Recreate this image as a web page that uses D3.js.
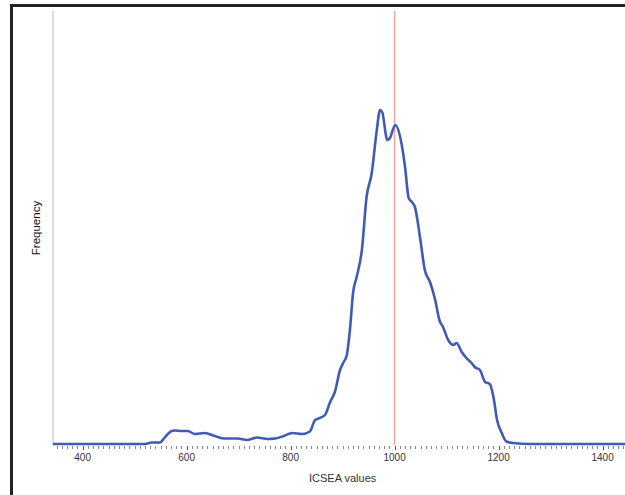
<!DOCTYPE html>
<html>
<head>
<meta charset="utf-8">
<script src="https://cdn.jsdelivr.net/npm/d3@7"></script>
<style>
    body { margin: 0; background: #fff; }
    svg { display: block; font-family: "Liberation Sans", Arial, sans-serif; }
</style>
</head>
<body>
<div id="chart"></div>
<script>
// ICSEA value grid (x) and relative frequency (y, arbitrary units)
const icsea = [343, 520, 533, 549, 554, 562, 571, 577, 590, 602, 616, 635, 654, 673, 698, 716, 735, 756, 770, 787,
    803, 822, 837, 847, 856, 866, 876, 885, 895, 901, 908, 914, 920, 927, 937, 946, 956, 965, 972, 976,
    986, 991, 1001, 1013, 1020, 1027, 1033, 1039, 1049, 1058, 1068, 1078, 1086, 1093, 1103, 1113, 1119, 1129, 1138, 1148,
    1154, 1164, 1174, 1183, 1190, 1197, 1206, 1215, 1228, 1260, 1443];
const frequency = [0, 0, 1.5, 1.5, 4, 9, 13, 13.5, 13, 13, 10, 11, 8, 5.5, 5.5, 4, 6.5, 5, 5.5, 8,
    11, 10, 12.5, 24, 26, 29, 42, 52, 74, 81, 89, 114, 151, 167, 194, 247, 271, 311, 334, 332,
    304, 306, 319, 301, 277, 246, 242, 237, 206, 174, 162, 144, 124, 117, 104, 99, 101, 92, 86, 81,
    77, 74, 62, 60, 47, 24, 11, 2.5, 1, 0, 0];
const tickLabels = [400, 600, 800, 1000, 1200, 1400];
const referenceValue = 1000;

const width = 625, height = 495;
const margin = { left: 53, right: 0, top: 11, bottom: 51 };

const svg = d3.select('#chart').append('svg')
    .attr('width', width)
    .attr('height', height);

// frame (cropped on the right and bottom)
svg.append('rect')
    .attr('x', 11.5).attr('y', 5.5)
    .attr('width', 700).attr('height', 600)
    .attr('fill', 'none')
    .attr('stroke', '#222')
    .attr('stroke-width', 3);

const x = d3.scaleLinear()
    .domain([343, 1443])
    .range([margin.left, width - margin.right]);

const y = d3.scaleLinear()
    .domain([0, 433])
    .range([height - margin.bottom, margin.top]);

const baseY = height - margin.bottom;

// y axis line (no ticks)
svg.append('line')
    .attr('x1', margin.left).attr('x2', margin.left)
    .attr('y1', margin.top).attr('y2', baseY + 1)
    .attr('stroke', '#ddd')
    .attr('stroke-width', 2);

// minor ticks every 10
const minor = d3.range(350, 1450, 10);
svg.append('g')
    .selectAll('line')
    .data(minor)
    .join('line')
    .attr('x1', d => Math.round(x(d)) + 0.5)
    .attr('x2', d => Math.round(x(d)) + 0.5)
    .attr('y1', baseY + 2)
    .attr('y2', d => d % 200 === 0 ? baseY + 6 : baseY + 5)
    .attr('stroke', d => d % 200 === 0 ? '#555' : '#888')
    .attr('stroke-width', 1);

// x axis tick labels
svg.append('g')
    .selectAll('text')
    .data(tickLabels)
    .join('text')
    .attr('x', d => x(d))
    .attr('y', baseY + 17)
    .attr('text-anchor', 'middle')
    .style('font-size', '10px')
    .style('fill', '#333')
    .text(d => d);

// axis titles
svg.append('text')
    .attr('x', x(1000) - 52)
    .attr('y', 482)
    .attr('text-anchor', 'middle')
    .style('font-size', '11px')
    .style('fill', '#333')
    .text('ICSEA values');

svg.append('text')
    .attr('transform', `translate(40,228) rotate(-90)`)
    .attr('text-anchor', 'middle')
    .style('font-size', '11.5px')
    .style('fill', '#111')
    .text('Frequency');

// reference line
svg.append('line')
    .attr('x1', x(referenceValue)).attr('x2', x(referenceValue))
    .attr('y1', margin.top).attr('y2', baseY + 1)
    .attr('stroke', '#f49a9a')
    .attr('stroke-width', 1.2);

// frequency curve
const points = icsea.map((v, i) => [v, frequency[i]]);
const line = d3.line()
    .x(d => x(d[0]))
    .y(d => y(d[1]))
    .curve(d3.curveMonotoneX);

svg.append('path')
    .datum(points)
    .attr('d', line)
    .attr('fill', 'none')
    .attr('stroke', '#3f5bb5')
    .attr('stroke-width', 2.6)
    .attr('stroke-linejoin', 'round');
</script>
</body>
</html>
